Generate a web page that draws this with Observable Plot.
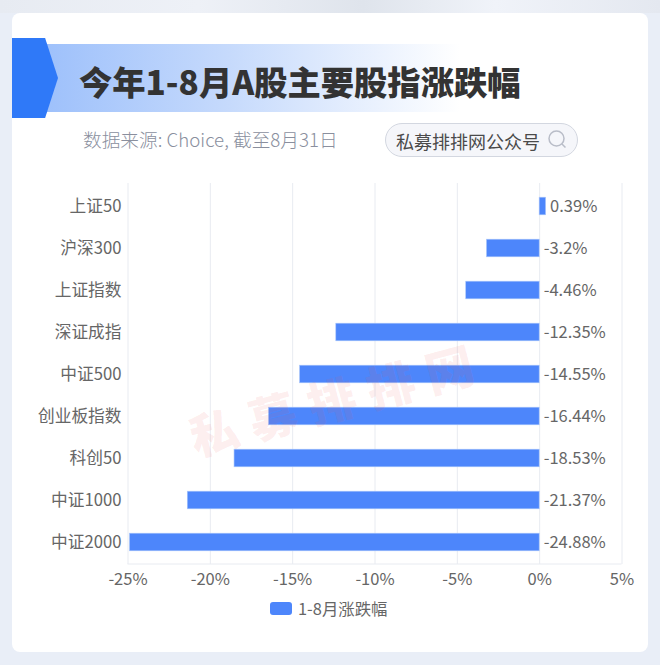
<!DOCTYPE html>
<html><head><meta charset="utf-8">
<script src="https://cdn.jsdelivr.net/npm/d3@7"></script>
<script src="https://cdn.jsdelivr.net/npm/@observablehq/plot@0.6"></script>
<style>
html,body{margin:0;padding:0;width:660px;height:665px;overflow:hidden;background:#e9eef7;font-family:"Noto Sans CJK SC","Noto Sans",sans-serif;}
#page{position:relative;width:660px;height:665px;overflow:hidden;}
#page>div,#page>svg{position:absolute;}
#deco{left:0;top:0;width:660px;height:13px;background:linear-gradient(90deg,#e7ebf2,#eef1f7 30%,#dfe4ec 55%,#f0f3f9 75%,#e4e8f0);}
#card{left:12px;top:13px;width:636px;height:639px;background:#fff;border-radius:8px;}
#band{left:40px;top:44px;width:420px;height:68px;background:linear-gradient(90deg,#9dc0fb,#c6dafc 45%,#ffffff);}
#tag{left:12px;top:38px;width:46px;height:80px;background:#2f79f8;clip-path:polygon(0 0,72% 0,100% 50%,72% 100%,0 100%);}
#title{left:79px;top:56px;font-size:33.3px;font-weight:900;color:#333;line-height:50px;white-space:nowrap;}
#sub{left:83px;top:126px;font-size:18.7px;font-weight:300;color:#8a8f9e;line-height:26px;white-space:nowrap;}
#pill{left:385px;top:123px;width:191px;height:32px;border:1.2px solid #d3d7e0;border-radius:17px;background:#f5f6fa;}
#pilltext{left:396px;top:128px;font-size:18px;color:#4a4a4a;line-height:26px;white-space:nowrap;}
#legend{left:270px;top:597px;display:flex;align-items:center;font-size:16.4px;color:#666;line-height:22px;}
#swatch{width:22px;height:13px;background:#4d86fb;border-radius:3px;margin-right:6px;}
#chart{left:0;top:0;width:660px;height:665px;}
#mark{left:190px;top:406px;font-size:48px;font-weight:900;color:rgba(240,90,90,0.11);letter-spacing:13px;white-space:nowrap;transform:rotate(-15deg);transform-origin:left center;pointer-events:none;line-height:60px;}
</style></head>
<body><div id="page">
<div id="deco"></div>
<div id="card"></div>
<div id="band"></div>
<div id="tag"></div>
<div id="title">今年1-8月A股主要股指涨跌幅</div>
<div id="sub">数据来源: Choice, 截至8月31日</div>
<div id="pill"></div>
<div id="pilltext">私募排排网公众号</div>
<svg style="left:547px;top:129px" width="21" height="21" viewBox="0 0 21 21" fill="none" stroke="#b9bdc8" stroke-width="1.5"><circle cx="9.5" cy="9.5" r="7.5"/><path d="M15 15l3.5 3.5"/></svg>
<div id="chart"></div>
<div id="legend"><span id="swatch"></span><span id="legendtext"></span></div>
<div id="mark">私募排排网</div>
</div>
<script>
const categories = ["上证50","沪深300","上证指数","深证成指","中证500","创业板指数","科创50","中证1000","中证2000"];
const values = [0.39,-3.2,-4.46,-12.35,-14.55,-16.44,-18.53,-21.37,-24.88];
const xTicks = [-25,-20,-15,-10,-5,0,5];
const seriesName = "1-8月涨跌幅";
const rows = categories.map((name,i)=>({name,value:values[i]}));
document.getElementById("legendtext").textContent = seriesName;
const chart = Plot.plot({
  width:660,height:665,
  marginLeft:127.5,marginRight:38.5,marginTop:183,marginBottom:101,
  style:{background:"transparent",fontFamily:'"Noto Sans CJK SC","Noto Sans",sans-serif',fontSize:"16px",color:"#666"},
  x:{domain:[-25,5],ticks:xTicks,label:null},
  y:{domain:categories,padding:0,label:null},
  marks:[
    Plot.ruleX(xTicks,{stroke:"#e8ebf1",strokeWidth:1}),
    Plot.barX(rows,{x1:0,x2:"value",y:"name",fill:"#4d86fb",stroke:"#a9c6fb",strokeWidth:0.6,insetTop:12.2,insetBottom:12.2}),
    Plot.text(rows,{x:d=>Math.max(d.value,0),y:"name",text:d=>d.value+"%",textAnchor:"start",dx:4,fill:"#666",fontSize:16.5}),
    Plot.axisY({tickSize:0,tickPadding:6.5,label:null,fontSize:16.7,fill:"#666",dy:0.5}),
    Plot.axisX({ticks:xTicks,tickSize:0,tickPadding:9,label:null,tickFormat:d=>d+"%",fontSize:16.5,fill:"#666"})
  ]
});
chart.style.position="absolute";chart.style.left="0";chart.style.top="0";
document.getElementById("chart").appendChild(chart);
const sx = chart.scale("x");
d3.select(chart).insert("line",":first-child").attr("x1",sx.apply(-25)).attr("x2",sx.apply(5)).attr("y1",564).attr("y2",564).attr("stroke","#e8ebf1");
</script>
</body></html>
